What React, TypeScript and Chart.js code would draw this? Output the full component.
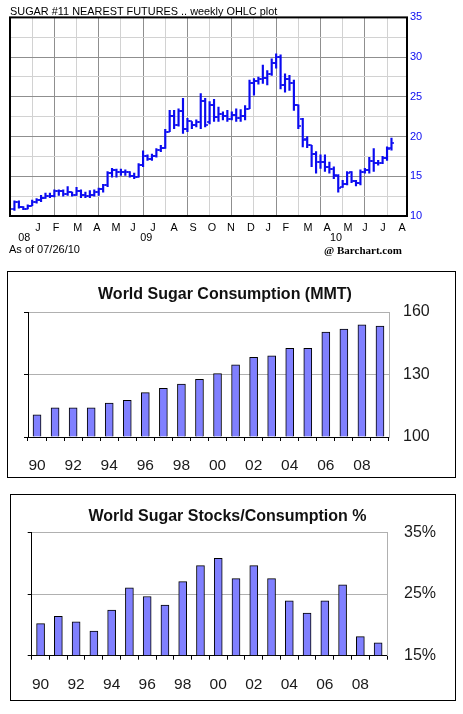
import React, { useEffect, useRef } from 'react';
import { Chart, registerables } from 'chart.js';

Chart.register(...registerables);

// ---------- Chart 1: Sugar #11 weekly OHLC ----------
const opens = [10.9, 11.7, 11.1, 10.9, 11.3, 11.8, 12.0, 12.3, 12.5, 12.5, 13.1, 13.2, 12.8, 13.0, 12.7, 13.2, 12.6, 12.5, 12.6, 13.0,
  13.4, 13.9, 15.4, 15.8, 15.6, 15.5, 15.5, 15.0, 14.9, 16.4, 17.6, 17.2, 17.5, 18.3, 18.6, 20.6, 22.6, 21.4, 23.2, 21.0,
  21.9, 21.4, 21.8, 24.5, 21.8, 24.0, 22.5, 22.8, 22.6, 22.2, 22.7, 22.3, 22.6, 23.5, 26.7, 27.0, 27.2, 27.4, 27.9, 29.2,
  30.0, 26.5, 27.3, 26.7, 24.0, 22.2, 19.7, 18.9, 17.8, 16.8, 16.8, 16.2, 15.9, 15.0, 13.6, 14.0, 15.5, 14.4, 14.2, 15.6,
  15.8, 16.9, 16.7, 16.7, 17.3, 18.5];
const highs = [11.9, 11.9, 11.2, 11.4, 12.0, 12.2, 12.6, 12.9, 12.9, 13.3, 13.3, 13.3, 13.7, 13.0, 13.6, 13.3, 13.0, 13.2, 13.3, 13.5,
  14.0, 15.6, 16.0, 15.9, 15.9, 15.8, 15.6, 15.4, 16.6, 18.2, 17.7, 17.8, 18.5, 18.9, 20.9, 23.3, 23.3, 23.5, 24.8, 22.3,
  21.9, 22.1, 25.4, 24.8, 24.4, 24.7, 23.7, 23.1, 23.3, 23.1, 23.5, 23.4, 23.9, 27.1, 27.3, 27.5, 29.0, 28.3, 29.8, 30.4,
  30.3, 27.9, 27.7, 27.1, 24.0, 22.3, 20.0, 18.9, 18.1, 17.7, 17.7, 16.8, 16.2, 15.2, 14.5, 15.6, 15.6, 14.5, 15.8, 16.0,
  17.4, 18.5, 17.0, 17.5, 18.7, 19.8];
const lows = [10.7, 11.0, 10.8, 10.9, 11.3, 11.6, 11.8, 12.2, 12.3, 12.4, 12.6, 12.5, 12.6, 12.5, 12.6, 12.3, 12.3, 12.3, 12.5, 12.6,
  13.0, 13.7, 14.9, 14.9, 15.1, 15.1, 14.9, 14.7, 14.9, 16.2, 17.0, 17.0, 17.4, 18.1, 18.5, 20.6, 21.0, 21.3, 20.4, 20.6,
  21.0, 21.2, 21.0, 21.2, 21.6, 21.9, 21.9, 22.1, 21.9, 22.1, 21.9, 21.9, 22.1, 23.5, 25.2, 26.6, 26.7, 26.5, 27.7, 28.6,
  26.0, 25.6, 25.8, 23.3, 21.0, 18.7, 18.6, 16.2, 15.4, 16.0, 15.6, 15.4, 14.7, 13.0, 13.6, 13.9, 14.2, 13.8, 13.9, 15.4,
  15.4, 15.6, 16.4, 16.6, 17.0, 18.3];
const closes = [11.7, 11.1, 10.9, 11.3, 11.8, 12.0, 12.3, 12.5, 12.5, 13.1, 13.2, 12.8, 13.0, 12.7, 13.2, 12.6, 12.5, 12.6, 13.0, 13.4,
  13.9, 15.4, 15.8, 15.6, 15.5, 15.5, 15.0, 14.9, 16.4, 17.6, 17.2, 17.5, 18.3, 18.6, 20.6, 22.6, 21.4, 23.2, 21.0, 21.9,
  21.4, 21.8, 24.5, 21.5, 24.0, 22.5, 22.8, 22.6, 22.2, 22.7, 22.3, 22.6, 23.5, 26.7, 27.0, 27.2, 27.4, 27.9, 29.2, 30.0,
  26.5, 27.3, 26.7, 24.0, 21.3, 19.6, 18.9, 17.8, 16.8, 16.8, 16.2, 15.9, 15.2, 13.5, 14.0, 15.4, 14.4, 14.2, 15.6, 15.8,
  16.9, 16.7, 16.7, 17.3, 18.4, 19.2];
const gridWeeks = [0, 5, 10, 15, 20, 25, 30, 35, 40, 45, 50, 55, 60, 65, 70, 75, 80, 85];
const monthLabels = ['J', 'F', 'M', 'A', 'M', 'J', 'J', 'A', 'S', 'O', 'N', 'D', 'J', 'F', 'M', 'A', 'M', 'J', 'J', 'A'];
const monthWeeks = [6.3, 10.4, 15.3, 19.6, 23.9, 27.7, 32.2, 37.0, 41.3, 45.5, 49.8, 54.3, 58.2, 62.2, 67.2, 71.5, 76.2, 80.0, 84.1, 88.4];
const yearLabels = ['08', '09', '10'];
const yearWeeks = [3.2, 30.7, 73.5];

// ---------- Charts 2 & 3 ----------
const years = ['90', '91', '92', '93', '94', '95', '96', '97', '98', '99', '00', '01', '02', '03', '04', '05', '06', '07', '08', '09'];
const consumption = [110.6, 114.0, 114.0, 114.0, 116.3, 117.6, 121.3, 123.4, 125.4, 127.7, 130.4, 134.7, 138.2, 139.0, 142.6, 142.6, 150.4, 151.8, 153.9, 153.3];
const stocksRatio = [20.2, 21.4, 20.5, 19.0, 22.4, 26.0, 24.6, 23.2, 27.0, 29.6, 30.8, 27.5, 29.6, 27.5, 23.9, 21.9, 23.9, 26.5, 18.1, 17.1];

const FONT = 'Liberation Sans';
const BLUE = '#0a0af0';
const DARK = '#8f8f8f';
const LIGHT = '#d2d2d2';
const BARFILL = '#8080ff';
const XLGRID = '#b0b0b0';

Chart.defaults.font.family = FONT;

function tickImage(side: 'open' | 'close') {
  const c = document.createElement('canvas');
  c.width = 6;
  c.height = 2;
  const g = c.getContext('2d')!;
  g.fillStyle = BLUE;
  if (side === 'open') g.fillRect(0, 0.25, 3, 1.5);
  else g.fillRect(3, 0.25, 3, 1.5);
  return c;
}

const areaBorder = {
  id: 'areaBorder',
  afterDraw(chart: any) {
    const { left, top, width, height } = chart.chartArea;
    const ctx = chart.ctx;
    ctx.save();
    ctx.strokeStyle = '#000';
    ctx.lineWidth = 2;
    ctx.strokeRect(left, top, width, height);
    ctx.restore();
  },
};

const footerText = {
  id: 'footerText',
  afterDraw(chart: any) {
    const ctx = chart.ctx;
    ctx.save();
    ctx.fillStyle = '#000';
    ctx.textBaseline = 'middle';
    ctx.textAlign = 'left';
    ctx.font = `11px "${FONT}"`;
    ctx.fillText('As of 07/26/10', 9, 250);
    ctx.font = 'bold 11px "Liberation Serif"';
    ctx.fillText('@ Barchart.com', 324, 251);
    ctx.restore();
  },
};

function ohlcConfig(): any {
  const openImg = tickImage('open');
  const closeImg = tickImage('close');
  return {
    type: 'bar',
    data: {
      datasets: [
        {
          type: 'bar',
          data: highs.map((h, i) => ({ x: i + 1, y: [lows[i], h] })),
          backgroundColor: BLUE,
          borderWidth: 0,
          barThickness: 1.5,
          xAxisID: 'x',
          yAxisID: 'y',
        },
        {
          type: 'scatter',
          data: opens.map((o, i) => ({ x: i + 1, y: o })),
          pointStyle: openImg,
          pointRadius: 2,
          xAxisID: 'x',
          yAxisID: 'y',
        },
        {
          type: 'scatter',
          data: closes.map((c, i) => ({ x: i + 1, y: c })),
          pointStyle: closeImg,
          pointRadius: 2,
          xAxisID: 'x',
          yAxisID: 'y',
        },
      ],
    },
    options: {
      animation: false,
      responsive: true,
      maintainAspectRatio: false,
      events: [],
      layout: { padding: { left: 10, right: 0, top: 0, bottom: 0 } },
      plugins: {
        legend: { display: false },
        tooltip: { enabled: false },
        title: {
          display: true,
          text: 'SUGAR #11 NEAREST FUTURES .. weekly OHLC plot',
          align: 'start',
          color: '#000',
          font: { family: FONT, size: 10.9, weight: 'normal', lineHeight: 1 },
          padding: { top: 6.5, bottom: 0 },
        },
      },
      scales: {
        x: {
          type: 'linear',
          position: 'bottom',
          weight: 0,
          min: 0,
          max: 89.5,
          offset: false,
          afterBuildTicks: (s: any) => {
            s.ticks = gridWeeks.map((v) => ({ value: v }));
          },
          grid: {
            offset: false,
            drawTicks: false,
            lineWidth: 1,
            color: (c: any) => (c.tick && c.tick.value % 10 === 0 ? DARK : LIGHT),
          },
          border: { display: false },
          ticks: { display: false },
          afterFit: (s: any) => {
            s.height = 0;
          },
        },
        xm: {
          type: 'linear',
          axis: 'x',
          position: 'bottom',
          weight: 1,
          min: 0,
          max: 89.5,
          offset: false,
          afterBuildTicks: (s: any) => {
            s.ticks = monthWeeks.map((v) => ({ value: v }));
          },
          grid: { display: false, drawTicks: false },
          border: { display: false },
          ticks: {
            autoSkip: false,
            maxRotation: 0,
            minRotation: 0,
            padding: 6.5,
            color: '#000',
            font: { family: FONT, size: 10.8, lineHeight: 1 },
            callback: (_v: any, i: number) => monthLabels[i],
          },
          afterFit: (s: any) => {
            s.height = 16.5;
          },
        },
        xy: {
          type: 'linear',
          axis: 'x',
          position: 'bottom',
          weight: 2,
          min: 0,
          max: 89.5,
          offset: false,
          afterBuildTicks: (s: any) => {
            s.ticks = yearWeeks.map((v) => ({ value: v }));
          },
          grid: { display: false, drawTicks: false },
          border: { display: false },
          ticks: {
            autoSkip: false,
            maxRotation: 0,
            minRotation: 0,
            padding: 0,
            color: '#000',
            font: { family: FONT, size: 10.8, lineHeight: 1.05 },
            callback: (_v: any, i: number) => yearLabels[i],
          },
          afterFit: (s: any) => {
            s.height = 27.5;
          },
        },
        y: {
          type: 'linear',
          position: 'right',
          min: 10,
          max: 35,
          grid: {
            drawTicks: false,
            lineWidth: 1,
            color: (c: any) => (c.tick && c.tick.value % 5 === 0 ? DARK : LIGHT),
          },
          border: { display: false },
          ticks: {
            stepSize: 2.5,
            padding: 3,
            color: BLUE,
            font: { family: FONT, size: 11 },
            callback: (v: any) => (Number(v) % 5 === 0 ? String(v) : ''),
          },
          afterFit: (s: any) => {
            s.width = 56;
          },
        },
      },
    },
    plugins: [areaBorder, footerText],
  };
}

function excelBarConfig(opts: {
  title: string;
  values: number[];
  min: number;
  max: number;
  step: number;
  fmt: (v: number) => string;
  titlePad: { top: number; bottom: number };
  leftW: number;
  rightW: number;
  rightPad: number;
  xH: number;
  xPad: number;
}): any {
  return {
    type: 'bar',
    data: {
      labels: years,
      datasets: [
        {
          data: opts.values,
          base: opts.min,
          backgroundColor: BARFILL,
          borderColor: '#000',
          borderWidth: 1,
          barThickness: 8,
          xAxisID: 'x',
          yAxisID: 'y',
        },
      ],
    },
    options: {
      animation: false,
      responsive: true,
      maintainAspectRatio: false,
      events: [],
      layout: { padding: 0 },
      plugins: {
        legend: { display: false },
        tooltip: { enabled: false },
        title: {
          display: true,
          text: opts.title,
          align: 'center',
          color: '#111',
          font: { family: FONT, size: 16, weight: 'bold', lineHeight: 1.2 },
          padding: opts.titlePad,
        },
      },
      scales: {
        x: {
          type: 'category',
          position: 'bottom',
          offset: true,
          grid: {
            offset: true,
            drawOnChartArea: false,
            drawTicks: true,
            tickLength: 4,
            tickColor: '#000',
            color: '#000',
          },
          border: { display: true, color: '#000', width: 1 },
          ticks: {
            autoSkip: false,
            maxRotation: 0,
            minRotation: 0,
            padding: opts.xPad,
            color: '#1a1a1a',
            font: { family: FONT, size: 15.5 },
            callback: (_v: any, i: number) => (i % 2 === 0 ? years[i] : ''),
          },
          afterFit: (s: any) => {
            s.height = opts.xH;
          },
        },
        y: {
          type: 'linear',
          position: 'left',
          min: opts.min,
          max: opts.max,
          grid: {
            drawTicks: true,
            tickLength: 4,
            tickColor: '#000',
            color: (c: any) => (c.tick && c.tick.value === opts.min ? 'rgba(0,0,0,0)' : XLGRID),
          },
          border: { display: true, color: '#000', width: 1 },
          ticks: { stepSize: opts.step, display: false },
          afterFit: (s: any) => {
            s.width = opts.leftW;
          },
        },
        y2: {
          type: 'linear',
          position: 'right',
          min: opts.min,
          max: opts.max,
          grid: { display: false, drawTicks: false },
          border: { display: true, color: XLGRID, width: 1 },
          ticks: {
            stepSize: opts.step,
            padding: opts.rightPad,
            color: '#1a1a1a',
            font: { family: FONT, size: 16 },
            callback: (v: any) => opts.fmt(Number(v)),
          },
          afterFit: (s: any) => {
            s.width = opts.rightW;
          },
        },
      },
    },
  };
}

export default function App() {
  const r1 = useRef<HTMLCanvasElement>(null);
  const r2 = useRef<HTMLCanvasElement>(null);
  const r3 = useRef<HTMLCanvasElement>(null);

  useEffect(() => {
    const c1 = new Chart(r1.current!, ohlcConfig());
    const c2 = new Chart(
      r2.current!,
      excelBarConfig({
        title: 'World Sugar Consumption (MMT)',
        values: consumption,
        min: 100,
        max: 160,
        step: 30,
        fmt: (v) => String(v),
        titlePad: { top: 19.9, bottom: 7.9 },
        leftW: 28,
        rightW: 61,
        rightPad: 14,
        xH: 43,
        xPad: 15.4,
      })
    );
    const c3 = new Chart(
      r3.current!,
      excelBarConfig({
        title: 'World Sugar Stocks/Consumption %',
        values: stocksRatio,
        min: 15,
        max: 35,
        step: 10,
        fmt: (v) => `${v}%`,
        titlePad: { top: 17.1, bottom: 6 },
        leftW: 31.7,
        rightW: 68,
        rightPad: 17,
        xH: 49.3,
        xPad: 15.5,
      })
    );
    return () => {
      c1.destroy();
      c2.destroy();
      c3.destroy();
    };
  }, []);

  const abs = (l: number, t: number, w: number, h: number): React.CSSProperties => ({
    position: 'absolute',
    left: l,
    top: t,
    width: w,
    height: h,
  });

  return (
    <div style={{ ...abs(0, 0, 463, 714), background: '#fff', overflow: 'hidden' }}>
      <div style={abs(0, 0, 463, 260)}>
        <canvas ref={r1} />
      </div>
      <div style={{ ...abs(7, 271, 449, 207), border: '1px solid #000', boxSizing: 'border-box' }} />
      <div style={abs(0, 265, 450, 215)}>
        <canvas ref={r2} />
      </div>
      <div style={{ ...abs(10, 494, 446, 207), border: '1px solid #000', boxSizing: 'border-box' }} />
      <div style={abs(0, 490, 455, 215)}>
        <canvas ref={r3} />
      </div>
    </div>
  );
}
